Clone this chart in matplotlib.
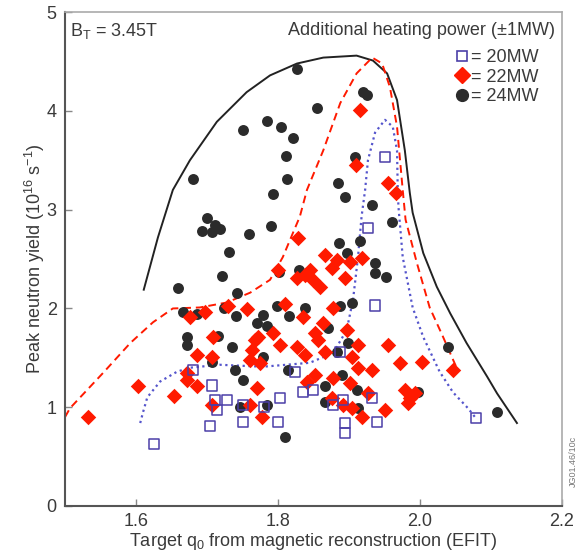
import matplotlib
matplotlib.use("Agg")
import matplotlib.pyplot as plt
from matplotlib.lines import Line2D

plt.rcParams['font.family'] = ['Liberation Sans', 'DejaVu Sans']
plt.rcParams['mathtext.fontset'] = 'custom'
plt.rcParams['mathtext.rm'] = 'Liberation Sans'
plt.rcParams['mathtext.it'] = 'Liberation Sans:italic'

# ---- data: peak neutron yield vs target q0, grouped by heating power ----
q0_20mw = [1.951, 1.927, 1.937, 1.680, 1.707, 1.728, 1.711, 1.714, 1.704, 1.751,
           1.625, 1.751, 1.800, 1.803, 1.835, 1.850, 1.892, 1.878, 1.933, 1.895,
           1.895, 1.940, 2.079, 1.888, 1.824, 1.780]
y_20mw = [3.53, 2.81, 2.03, 1.38, 1.22, 1.07, 1.07, 0.97, 0.81, 0.85,
          0.63, 1.02, 0.85, 1.09, 1.15, 1.17, 1.07, 1.02, 1.09, 0.84,
          0.74, 0.85, 0.89, 1.56, 1.36, 1.00]

q0_22mw = [1.916, 1.910, 1.955, 1.966, 1.828, 1.800, 1.827, 1.676, 1.697, 1.730,
           1.756, 1.810, 1.793, 1.772, 1.709, 1.866, 1.883, 1.902, 1.918, 1.876,
           1.845, 1.849, 1.859, 1.895, 1.838, 1.878, 1.835, 1.864, 1.852, 1.897,
           1.686, 1.707, 1.672, 1.672, 1.686, 1.603, 1.654, 1.532, 1.707, 1.763,
           1.768, 1.761, 1.771, 1.761, 1.778, 1.803, 1.857, 1.827, 1.838, 1.866,
           1.913, 1.904, 1.955, 1.913, 1.933, 1.972, 2.003, 2.047, 1.841, 1.852,
           1.878, 1.902, 1.876, 1.892, 1.904, 1.918, 1.927, 1.951, 1.979, 1.986,
           1.983, 1.993, 1.775]
y_22mw = [4.01, 3.45, 3.27, 3.17, 2.71, 2.39, 2.31, 1.91, 1.96, 2.03,
          1.99, 2.05, 1.75, 1.71, 1.71, 2.54, 2.49, 2.47, 2.51, 2.41,
          2.39, 2.29, 2.22, 2.31, 2.34, 2.00, 1.91, 1.85, 1.75, 1.78,
          1.53, 1.51, 1.35, 1.28, 1.21, 1.22, 1.11, 0.90, 1.02, 1.58,
          1.68, 1.48, 1.19, 1.02, 0.90, 1.63, 1.68, 1.61, 1.53, 1.56,
          1.63, 1.51, 1.63, 1.40, 1.38, 1.45, 1.46, 1.38, 1.26, 1.33,
          1.30, 1.25, 1.09, 1.02, 0.99, 0.90, 1.14, 0.97, 1.17, 1.09,
          1.04, 1.14, 1.45]

q0_24mw = [1.827, 1.785, 1.804, 1.821, 1.751, 1.811, 1.813, 1.680, 1.793, 1.920,
           1.926, 1.855, 1.909, 1.885, 1.895, 1.700, 1.712, 1.693, 1.707, 1.718,
           1.759, 1.790, 1.731, 1.721, 1.659, 1.742, 1.802, 1.666, 1.686, 1.724,
           1.741, 1.779, 1.799, 1.816, 1.785, 1.672, 1.672, 1.716, 1.735, 1.933,
           1.961, 1.886, 1.897, 1.916, 1.937, 1.937, 1.952, 1.904, 1.888, 1.838,
           1.707, 1.740, 1.751, 1.747, 1.785, 1.779, 1.771, 1.871, 1.814, 1.899,
           1.883, 1.890, 1.866, 1.911, 1.866, 1.913, 1.810, 2.040, 1.997, 2.109,
           1.830]
y_24mw = [4.42, 3.90, 3.84, 3.73, 3.81, 3.54, 3.31, 3.31, 3.16, 4.19,
          4.16, 4.03, 3.53, 3.27, 3.13, 2.92, 2.85, 2.78, 2.77, 2.80,
          2.75, 2.84, 2.57, 2.33, 2.21, 2.16, 2.37, 1.96, 1.94, 2.00,
          1.92, 1.93, 2.03, 1.92, 1.82, 1.71, 1.63, 1.72, 1.61, 3.05,
          2.88, 2.66, 2.56, 2.68, 2.46, 2.36, 2.32, 2.06, 2.03, 2.00,
          1.46, 1.38, 1.28, 1.00, 1.02, 1.51, 1.85, 1.80, 1.38, 1.65,
          1.56, 1.33, 1.22, 1.17, 1.05, 0.99, 0.70, 1.61, 1.15, 0.95,
          2.39]

# ---- hand-drawn envelopes around each power group ----
env24_x = [1.611, 1.631, 1.652, 1.676, 1.714, 1.756, 1.789, 1.827, 1.864, 1.911,
           1.934, 1.954, 1.968, 1.979, 1.986, 1.990, 2.005, 2.024, 2.043, 2.066,
           2.095, 2.109, 2.137]
env24_y = [2.19, 2.72, 3.20, 3.50, 3.89, 4.19, 4.36, 4.48, 4.54, 4.56,
           4.51, 4.38, 4.11, 3.60, 3.17, 2.97, 2.56, 2.22, 1.95, 1.65,
           1.31, 1.14, 0.84]

env22_x = [1.500, 1.507, 1.554, 1.592, 1.624, 1.652, 1.690, 1.728, 1.761, 1.789,
           1.807, 1.821, 1.831, 1.841, 1.864, 1.888, 1.911, 1.933, 1.947, 1.958,
           1.968, 1.976, 1.980, 1.996, 2.014, 2.033, 2.047, 2.052]
env22_y = [0.90, 0.99, 1.35, 1.65, 1.86, 2.00, 2.01, 2.06, 2.16, 2.29,
           2.52, 2.76, 2.93, 3.20, 3.60, 4.08, 4.38, 4.54, 4.48, 4.24,
           3.84, 3.20, 2.90, 2.46, 2.01, 1.71, 1.48, 1.40]

env20_x = [1.606, 1.610, 1.616, 1.634, 1.658, 1.676, 1.718, 1.779, 1.845, 1.878,
           1.897, 1.906, 1.913, 1.918, 1.923, 1.927, 1.937, 1.951, 1.962, 1.968,
           1.969, 1.970, 1.976, 1.990, 2.005, 2.028, 2.047, 2.068, 2.079]
env20_y = [0.84, 0.95, 1.10, 1.26, 1.36, 1.40, 1.43, 1.41, 1.45, 1.55,
           1.78, 2.09, 2.52, 2.93, 3.20, 3.50, 3.78, 3.91, 3.84, 3.60,
           3.20, 3.03, 2.52, 2.01, 1.71, 1.36, 1.15, 0.99, 0.89]

x_ticks = [1.6, 1.8, 2.0, 2.2]
x_tick_labels = ['1.6', '1.8', '2.0', '2.2']
y_ticks = [0, 1, 2, 3, 4, 5]
y_tick_labels = ['0', '1', '2', '3', '4', '5']

BLACK = '#2b2b2b'
RED = '#ff1a00'
BLUE = '#4b3fa8'
TXT = '#3a3a3a'

fig = plt.figure(figsize=(5.82, 5.53), dpi=100)
ax = fig.add_axes([0.1117, 0.085, 0.8533, 0.893])

ax.plot(env24_x, env24_y, color='#222222', lw=1.4, zorder=2)
ax.plot(env22_x, env22_y, color=RED, lw=1.4, ls=(0, (4, 2.5)), zorder=2)
ax.plot(env20_x, env20_y, color='#5555cc', lw=1.6, ls=(0, (1, 1.6)), zorder=2)

ax.scatter(q0_24mw, y_24mw, s=62, marker='o', color=BLACK, linewidths=0, zorder=3)
ax.scatter(q0_22mw, y_22mw, s=62, marker='D', color=RED, linewidths=0, zorder=4)
ax.scatter(q0_20mw, y_20mw, s=52, marker='s', facecolors='none', edgecolors=BLUE,
           linewidths=1.1, zorder=5)

ax.set_xlim(1.5, 2.2)
ax.set_ylim(0, 5)
ax.set_xticks(x_ticks)
ax.set_xticklabels(x_tick_labels)
ax.set_yticks(y_ticks)
ax.set_yticklabels(y_tick_labels)
ax.tick_params(direction='in', length=5, width=1, colors='#888888',
               labelcolor=TXT, labelsize=13)
ax.tick_params(axis='x', pad=5)
ax.tick_params(axis='y', pad=6)

for side in ('left', 'bottom'):
    ax.spines[side].set_color('#555555')
    ax.spines[side].set_linewidth(1.5)
for side in ('top', 'right'):
    ax.spines[side].set_color('#aaaaaa')
    ax.spines[side].set_linewidth(1.2)

ax.set_xlabel('Target q$_0$ from magnetic reconstruction (EFIT)', fontsize=13,
              color=TXT, labelpad=1)
ax.set_ylabel('Peak neutron yield (10$^{16}$ s$^{-1}$)', fontsize=13,
              color=TXT, labelpad=0)

ax.text(0.01, 0.962, 'B$_\\mathrm{T}$ = 3.45T', transform=ax.transAxes,
        fontsize=13, color=TXT, ha='left', va='center')
ax.text(0.987, 0.962, 'Additional heating power (\u00b11MW)', transform=ax.transAxes,
        fontsize=13, color=TXT, ha='right', va='center')

handles = [
    Line2D([], [], ls='none', marker='s', markersize=7.5, markerfacecolor='none',
           markeredgecolor=BLUE, markeredgewidth=1.2),
    Line2D([], [], ls='none', marker='D', markersize=8, color=RED),
    Line2D([], [], ls='none', marker='o', markersize=8.5, color=BLACK),
]
ax.legend(handles, ['= 20MW', '= 22MW', '= 24MW'], loc='upper right',
          bbox_to_anchor=(0.98, 0.95), frameon=False, fontsize=13,
          handlelength=0.7, handletextpad=0.15, labelspacing=0.12,
          borderpad=0.2, labelcolor=TXT)

fig.text(0.985, 0.165, 'JG01.46/10c', rotation=90, fontsize=6.5,
         color='#777777', ha='center', va='center')

fig.savefig('out.png', dpi=100)
